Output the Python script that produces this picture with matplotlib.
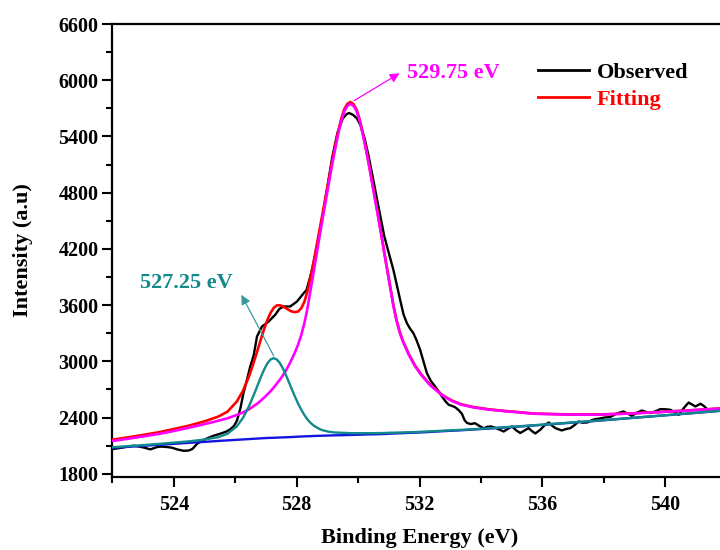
import matplotlib
matplotlib.use("Agg")
import matplotlib.pyplot as plt
from matplotlib.ticker import MultipleLocator
from matplotlib.lines import Line2D

plt.rcParams["font.family"] = ["Liberation Serif", "DejaVu Serif"]
plt.rcParams["font.weight"] = "bold"

fit_ev = [522.0, 522.5, 523.0, 523.5, 524.0, 524.5, 525.0, 525.45, 525.75, 526.05,
          526.25, 526.45, 526.55, 526.65, 526.75, 526.85, 526.95, 527.05, 527.15, 527.25,
          527.35, 527.45, 527.55, 527.65, 527.75, 527.85, 527.95, 528.05, 528.15, 528.25,
          528.35, 528.45, 528.55, 528.65, 528.75, 528.85, 528.95, 529.05, 529.15, 529.25,
          529.35, 529.45, 529.55, 529.65, 529.75, 529.85, 529.95, 530.05, 530.15, 530.25,
          530.35, 530.45, 530.55, 530.65, 530.75, 530.85, 530.95, 531.05, 531.15, 531.25,
          531.35, 531.45, 531.65, 531.85, 532.05, 532.35, 532.75, 533.05, 533.35, 533.75,
          534.25, 534.75, 535.25, 535.75, 536.75, 537.75, 538.75, 539.75, 540.75, 541.75,
          542.0]
background = [2077, 2087, 2098, 2108, 2119, 2130, 2140, 2150, 2156, 2162,
              2166, 2170, 2172, 2174, 2176, 2178, 2180, 2182, 2183, 2184,
              2185, 2187, 2188, 2189, 2191, 2192, 2194, 2196, 2197, 2199,
              2200, 2201, 2203, 2204, 2205, 2206, 2207, 2208, 2209, 2210,
              2211, 2211, 2212, 2213, 2214, 2215, 2216, 2217, 2218, 2219,
              2220, 2220, 2221, 2222, 2223, 2224, 2226, 2228, 2229, 2231,
              2232, 2233, 2236, 2238, 2241, 2246, 2254, 2259, 2264, 2272,
              2282, 2293, 2304, 2316, 2340, 2364, 2391, 2417, 2443, 2470,
              2476]
peak_527 = [2083, 2094, 2106, 2118, 2132, 2146, 2165, 2190, 2227, 2305,
            2395, 2521, 2598, 2678, 2762, 2844, 2918, 2979, 3019, 3034,
            3021, 2984, 2926, 2855, 2777, 2696, 2620, 2547, 2484, 2428,
            2381, 2344, 2315, 2296, 2276, 2264, 2256, 2248, 2244, 2240,
            2239, 2237, 2236, 2235, 2233, 2233, 2233, 2233, 2233, 2233,
            2233, 2233, 2233, 2234, 2234, 2235, 2236, 2238, 2238, 2239,
            2240, 2241, 2243, 2245, 2248, 2252, 2259, 2264, 2268, 2276,
            2285, 2296, 2307, 2318, 2342, 2366, 2392, 2418, 2444, 2471,
            2477]
peak_529 = [2149, 2173, 2198, 2224, 2256, 2292, 2329, 2366, 2392, 2427,
            2454, 2488, 2510, 2533, 2556, 2585, 2615, 2647, 2680, 2719,
            2760, 2802, 2848, 2901, 2961, 3027, 3099, 3181, 3279, 3404,
            3562, 3754, 3946, 4141, 4340, 4531, 4717, 4903, 5089, 5260,
            5421, 5561, 5667, 5725, 5749, 5727, 5671, 5567, 5428, 5269,
            5100, 4915, 4731, 4547, 4358, 4161, 3969, 3781, 3591, 3436,
            3314, 3218, 3071, 2950, 2856, 2743, 2634, 2577, 2538, 2508,
            2485, 2468, 2454, 2440, 2432, 2430, 2441, 2457, 2475, 2495,
            2500]
fitting = [2163, 2188, 2214, 2242, 2277, 2314, 2359, 2410, 2463, 2570,
           2683, 2839, 2936, 3037, 3142, 3251, 3353, 3444, 3516, 3569,
           3596, 3599, 3586, 3567, 3547, 3531, 3525, 3532, 3566, 3633,
           3743, 3897, 4058, 4233, 4411, 4589, 4766, 4943, 5124, 5290,
           5449, 5587, 5691, 5747, 5768, 5745, 5688, 5583, 5443, 5283,
           5113, 4928, 4743, 4559, 4369, 4172, 3979, 3791, 3600, 3444,
           3322, 3226, 3078, 2957, 2863, 2749, 2639, 2582, 2542, 2512,
           2488, 2471, 2457, 2442, 2434, 2432, 2442, 2458, 2476, 2496,
           2501]

# observed spectrum
obs_ev = [522.0, 522.25, 522.51, 522.69, 522.84, 523.02, 523.24, 523.35, 523.46, 523.6,
          523.78, 523.94, 524.11, 524.32, 524.49, 524.61, 524.76, 524.91, 525.09, 525.29,
          525.52, 525.71, 525.84, 525.96, 526.06, 526.17, 526.27, 526.38, 526.49, 526.6,
          526.71, 526.87, 527.09, 527.3, 527.44, 527.57, 527.79, 528.01, 528.23, 528.32,
          528.49, 528.66, 528.83, 529.0, 529.16, 529.33, 529.5, 529.63, 529.71, 529.84,
          529.97, 530.09, 530.22, 530.35, 530.47, 530.6, 530.73, 530.85, 530.98, 531.15,
          531.27, 531.37, 531.48, 531.59, 531.69, 531.8, 531.91, 532.02, 532.13, 532.24,
          532.37, 532.51, 532.62, 532.73, 532.84, 532.95, 533.05, 533.16, 533.27, 533.38,
          533.47, 533.55, 533.68, 533.8, 533.95, 534.09, 534.2, 534.33, 534.47, 534.61,
          534.74, 534.88, 535.01, 535.16, 535.28, 535.41, 535.55, 535.66, 535.77, 535.93,
          536.08, 536.21, 536.33, 536.42, 536.63, 536.75, 536.91, 537.05, 537.18, 537.3,
          537.46, 537.6, 537.72, 537.88, 538.02, 538.2, 538.4, 538.64, 538.78, 538.91,
          539.07, 539.24, 539.37, 539.51, 539.71, 539.84, 540.0, 540.16, 540.3, 540.44,
          540.6, 540.76, 540.89, 540.98, 541.15, 541.27, 541.36]
observed = [2063, 2075, 2090, 2099, 2092, 2080, 2060, 2072, 2085, 2090,
            2085, 2078, 2060, 2045, 2048, 2065, 2120, 2150, 2178, 2205,
            2228, 2250, 2275, 2310, 2370, 2500, 2661, 2800, 2945, 3060,
            3265, 3371, 3425, 3496, 3560, 3585, 3585, 3638, 3727, 3760,
            3960, 4220, 4520, 4860, 5180, 5440, 5590, 5640, 5650, 5630,
            5590, 5510, 5370, 5180, 4980, 4760, 4540, 4340, 4180, 3976,
            3800, 3656, 3500, 3407, 3350, 3301, 3220, 3123, 3000, 2874,
            2790, 2731, 2680, 2625, 2575, 2536, 2525, 2510, 2480, 2440,
            2370, 2341, 2330, 2340, 2310, 2285, 2300, 2305, 2290, 2270,
            2251, 2280, 2305, 2260, 2235, 2260, 2287, 2255, 2230, 2269,
            2320, 2347, 2310, 2287, 2262, 2275, 2287, 2320, 2358, 2345,
            2347, 2370, 2383, 2390, 2400, 2405, 2440, 2465, 2440, 2418,
            2450, 2475, 2460, 2447, 2470, 2490, 2488, 2483, 2460, 2429,
            2500, 2560, 2535, 2518, 2547, 2520, 2490]

peak_labels = ["527.25 eV", "529.75 eV"]
series_names = ["Observed", "Fitting"]

teal = "#12898a"
magenta = "#ff00ff"

fig = plt.figure(figsize=(7.2, 5.5), dpi=100)
ax = fig.add_axes([0.156, 0.1327, 0.8533, 0.8236])

ax.plot(obs_ev, observed, color="black", lw=1.7, zorder=2)
ax.plot(fit_ev, fitting, color="#ff0000", lw=1.9, zorder=3)
ax.plot(fit_ev, peak_529, color=magenta, lw=1.9, zorder=4)
ax.plot(fit_ev, background, color="#1414e0", lw=1.7, zorder=5)
ax.plot(fit_ev, peak_527, color=teal, lw=1.7, zorder=6)

# peak position labels with arrows
ax.annotate("", xy=(526.2, 3710), xytext=(527.25, 3060),
            arrowprops=dict(arrowstyle="-|>", color="#3a9a9a", lw=0.9,
                            mutation_scale=14, shrinkA=0, shrinkB=0))
ax.text(522.9, 3840, peak_labels[0], color=teal, fontsize=16,
        fontweight="bold", ha="left", va="center")
ax.annotate("", xy=(531.35, 6074), xytext=(529.87, 5782),
            arrowprops=dict(arrowstyle="-|>", color=magenta, lw=0.9,
                            mutation_scale=14, shrinkA=0, shrinkB=0))
ax.text(531.6, 6077, peak_labels[1], color=magenta, fontsize=16,
        fontweight="bold", ha="left", va="center")

handles = [Line2D([], [], color="black", lw=2),
           Line2D([], [], color="#ff0000", lw=2)]
leg = ax.legend(handles, series_names, loc="upper left",
                bbox_to_anchor=(538 / 720, 1 - 62 / 550),
                bbox_transform=fig.transFigure, frameon=False, fontsize=16,
                handlelength=2.3, handletextpad=0.33, labelspacing=0.3,
                borderpad=0, borderaxespad=0)
for txt, c in zip(leg.get_texts(), ["black", "#ff0000"]):
    txt.set_color(c)

ax.set_xlim(522, 542)
ax.set_ylim(1765, 6600)
ax.xaxis.set_major_locator(MultipleLocator(4))
ax.xaxis.set_minor_locator(MultipleLocator(2))
ax.yaxis.set_major_locator(MultipleLocator(600))
ax.yaxis.set_minor_locator(MultipleLocator(300))
ax.tick_params(which="major", direction="out", length=7, width=1.5,
               labelsize=14.5, pad=3)
ax.tick_params(axis="x", which="major", pad=6)
ax.tick_params(which="minor", direction="out", length=4, width=1.5)
for s in ax.spines.values():
    s.set_linewidth(1.6)

ax.set_xlabel("Binding Energy (eV)", fontsize=16, fontweight="bold", labelpad=9)
ax.set_ylabel("Intensity (a.u)", fontsize=16, fontweight="bold", labelpad=18)

fig.savefig("out.png", dpi=100)
